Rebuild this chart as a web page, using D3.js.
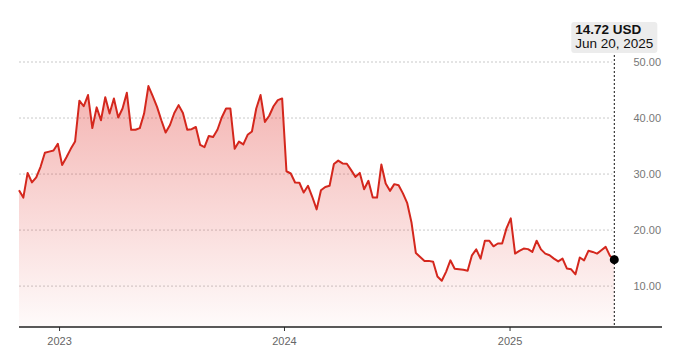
<!DOCTYPE html>
<html>
<head>
<meta charset="utf-8">
<script src="https://cdn.jsdelivr.net/npm/d3@7"></script>
<style>
	body { margin: 0; background: #fff; }
	svg { display: block; font-family: 'Liberation Sans', Arial, sans-serif; }
</style>
</head>
<body>
<div id="chart"></div>
<script>
// Weekly closing price, first week ending Oct 28, 2022, last one Jun 20, 2025
var startDate = new Date(2022, 9, 28);
var prices = [
	27.1, 25.8, 30.2, 28.5, 29.4, 31.3, 33.8, 34.0, 34.2, 35.4, 31.6, 33.0, 34.5, 35.8,
	43.1, 42.1, 44.1, 38.2, 41.9, 39.6, 43.7, 40.8, 43.5, 40.1, 41.7, 44.5, 37.9, 37.9,
	38.2, 40.8, 45.7, 43.9, 42.0, 39.6, 37.4, 38.75, 40.9, 42.3, 40.9, 37.9, 38.0, 38.4,
	35.2, 34.8, 36.8, 36.6, 37.9, 40.1, 41.7, 41.7, 34.5, 35.8, 35.3, 37.0, 37.6, 41.7,
	44.1, 39.3, 40.4, 42.1, 43.2, 43.5, 30.5, 30.1, 28.5, 28.45, 26.7, 27.9, 25.9, 23.7,
	27.1, 27.7, 27.9, 31.8, 32.4, 31.9, 31.85, 30.7, 29.5, 30.2, 27.3, 28.8, 25.8, 25.8,
	31.7, 28.3, 27.0, 28.2, 28.0, 26.55, 24.8, 21.3, 15.9, 15.2, 14.5, 14.5, 14.35, 11.7,
	10.95, 12.55, 14.6, 13.1, 13.0, 12.9, 12.75, 15.5, 16.55, 14.9, 18.1, 18.1, 17.1, 17.6,
	17.6, 20.3, 22.1, 15.8, 16.3, 16.7, 16.6, 16.1, 18.1, 16.55, 15.8, 15.5, 14.9, 14.4,
	14.9, 13.15, 13.0, 12.1, 15.1, 14.6, 16.3, 16.1, 15.8, 16.4, 17.0, 15.4, 14.72
];
var yTicks = [10, 20, 30, 40, 50];
var currency = 'USD';

var width = 680;
var height = 352;
var plotLeft = 19;
var plotRight = 614.3;
var axisRight = 662;
var plotTop = 62;
var plotBottom = 327;
var lineColor = '#d4271d';

var data = prices.map((p, i) => ({ date: d3.timeWeek.offset(startDate, i), value: p }));
var last = data[data.length - 1];

var xScale = d3.scaleTime()
		.domain([data[0].date, last.date])
		.range([plotLeft, plotRight]);

var yScale = d3.scaleLinear()
		.domain([2.7, 50])
		.range([plotBottom, plotTop]);

var svg = d3.select('#chart').append('svg')
		.attr('width', width)
		.attr('height', height);

// gradient under the line
var grad = svg.append('defs').append('linearGradient')
		.attr('id', 'areaFill')
		.attr('gradientUnits', 'userSpaceOnUse')
		.attr('x1', 0).attr('x2', 0)
		.attr('y1', plotTop).attr('y2', plotBottom);
grad.append('stop').attr('offset', 0).attr('stop-color', '#e0302a').attr('stop-opacity', 0.4);
grad.append('stop').attr('offset', 1).attr('stop-color', '#e0302a').attr('stop-opacity', 0.02);

// horizontal grid + right hand labels
svg.append('g')
		.selectAll('line')
		.data(yTicks)
		.enter()
		.append('line')
		.attr('x1', plotLeft)
		.attr('x2', plotRight - 2)
		.attr('y1', d => yScale(d))
		.attr('y2', d => yScale(d))
		.attr('stroke', '#c9c9c9')
		.attr('stroke-dasharray', '2,2');

svg.append('g')
		.selectAll('text')
		.data(yTicks)
		.enter()
		.append('text')
		.attr('x', axisRight - 1)
		.attr('y', d => yScale(d))
		.attr('dy', '0.35em')
		.attr('text-anchor', 'end')
		.attr('font-size', 11)
		.attr('fill', '#777')
		.text(d => d3.format('.2f')(d));

// area + line
svg.append('path')
		.datum(data)
		.attr('fill', 'url(#areaFill)')
		.attr('d', d3.area()
				.x(d => xScale(d.date))
				.y0(plotBottom)
				.y1(d => yScale(d.value)));

svg.append('path')
		.datum(data)
		.attr('fill', 'none')
		.attr('stroke', lineColor)
		.attr('stroke-width', 2)
		.attr('stroke-linejoin', 'round')
		.attr('d', d3.line()
				.x(d => xScale(d.date))
				.y(d => yScale(d.value)));

// x axis
var xAxis = svg.append('g')
		.attr('transform', 'translate(0,' + plotBottom + ')')
		.call(d3.axisBottom(xScale)
				.ticks(d3.timeYear)
				.tickFormat(d3.timeFormat('%Y'))
				.tickSize(4)
				.tickPadding(6));
xAxis.select('.domain').remove();
xAxis.selectAll('.tick line').attr('stroke', '#333');
xAxis.selectAll('.tick text')
		.attr('font-size', 11)
		.attr('fill', '#666')
		.style('font-family', "'Liberation Sans', Arial, sans-serif");

svg.append('line')
		.attr('x1', plotLeft)
		.attr('x2', axisRight)
		.attr('y1', plotBottom)
		.attr('y2', plotBottom)
		.attr('stroke', '#222')
		.attr('stroke-width', 1.5);

// hover marker on the last point
var hx = xScale(last.date);
var tip = svg.append('g');
var tipText = tip.append('text')
		.attr('x', hx)
		.attr('font-size', 13.5)
		.attr('fill', '#111')
		.attr('text-anchor', 'middle');
tipText.append('tspan')
		.attr('x', hx)
		.attr('y', 34)
		.attr('font-weight', 600)
		.text(d3.format('.2f')(last.value) + ' ' + currency);
tipText.append('tspan')
		.attr('x', hx)
		.attr('y', 48)
		.text(d3.timeFormat('%b %-d, %Y')(last.date));

var bb = tipText.node().getBBox();
tip.insert('rect', 'text')
		.attr('x', hx - bb.width / 2 - 4)
		.attr('y', 22)
		.attr('width', bb.width + 8)
		.attr('height', 31)
		.attr('rx', 3)
		.attr('fill', '#ececec');
// left align the two lines inside the box
tipText.attr('text-anchor', 'start');
tipText.selectAll('tspan').attr('x', hx - bb.width / 2);

svg.append('line')
		.attr('x1', hx)
		.attr('x2', hx)
		.attr('y1', 55)
		.attr('y2', plotBottom)
		.attr('stroke', '#111')
		.attr('stroke-dasharray', '2,2');

svg.append('circle')
		.attr('cx', hx)
		.attr('cy', yScale(last.value))
		.attr('r', 4.5)
		.attr('fill', '#000');
</script>
</body>
</html>
